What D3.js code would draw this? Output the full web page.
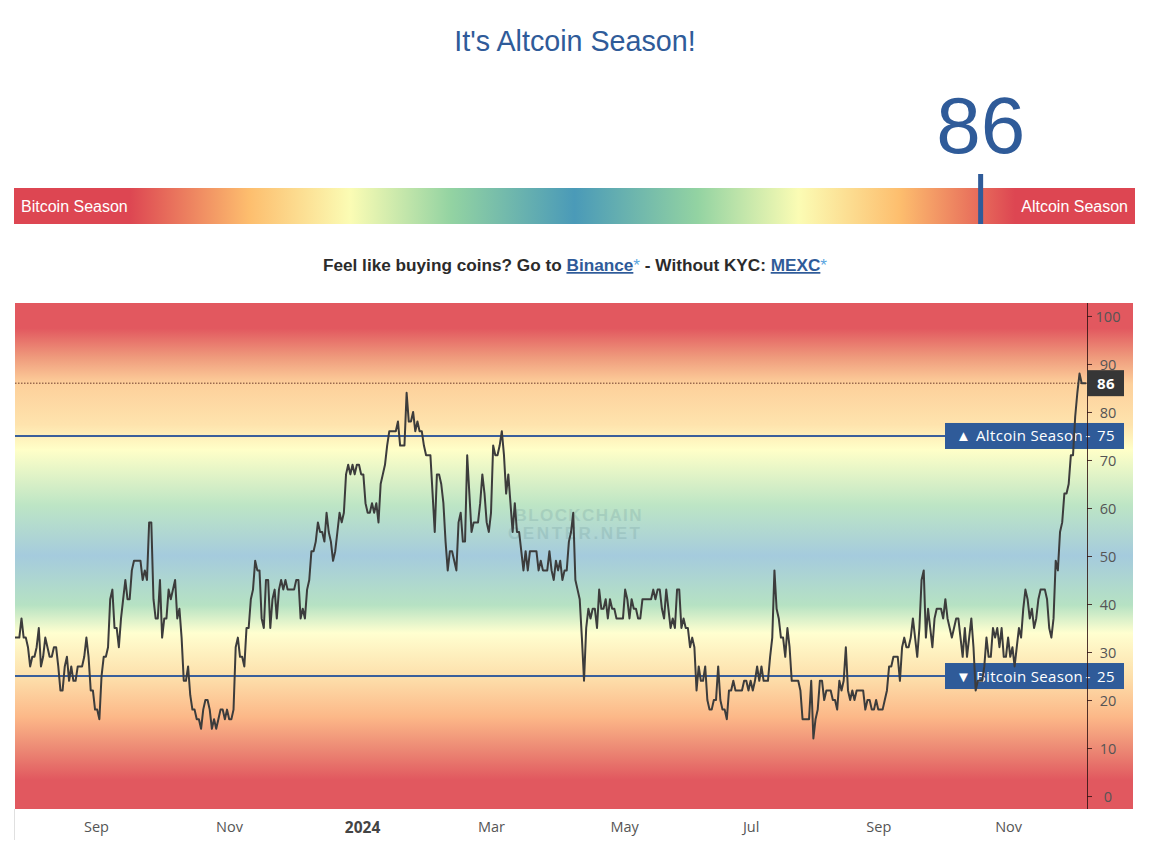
<!DOCTYPE html>
<html>
<head>
<meta charset="utf-8">
<script src="https://cdn.jsdelivr.net/npm/d3@7"></script>
<style>
  body { margin: 0; background: #fff; }
  svg { display: block; }
  .sans { font-family: "Liberation Sans", Arial, sans-serif; }
  .chartfont { font-family: "Open Sans", sans-serif; font-size: 15px; letter-spacing: 0.35px; }
  .axis path.domain { display: none; }
  .axis text { font-family: "Open Sans", sans-serif; font-size: 14.5px; fill: #555; }
</style>
</head>
<body>
<div id="chart"></div>
<script>
// index value per bar
const indexValues = [
  33,33,33,37,33,33,31,27,29,29,31,
  35,27,29,33,31,29,29,31,31,27,
  22,22,27,29,24,27,24,24,27,27,
  27,29,33,29,22,22,18,18,16,25,
  29,29,31,41,43,35,35,31,37,41,
  45,41,41,47,49,49,49,49,45,47,
  45,57,57,41,37,37,45,33,37,37,
  43,41,43,45,37,39,33,24,24,27,
  21,18,18,16,16,14,18,20,20,18,
  14,16,14,16,18,18,16,18,16,16,
  18,31,33,29,29,27,35,35,41,43,
  49,47,47,37,35,45,45,35,41,43,
  37,43,45,43,45,43,43,43,43,45,45,
  37,39,37,43,45,
  51,51,53,57,55,55,53,59,55,53,
  49,51,55,59,57,59,67,69,67,69,
  67,69,69,67,67,61,59,59,61,59,
  61,57,65,67,69,73,76,76,76,76,
  78,73,73,73,84,78,78,80,76,78,
  76,76,73,71,71,71,63,55,67,67,
  65,61,53,47,51,51,49,47,57,59,
  53,53,71,63,55,57,57,57,61,67,
  63,57,55,59,73,71,71,73,76,71,
  63,67,61,55,61,55,55,51,47,51,
  47,51,51,51,51,47,49,47,47,47,
  51,47,45,49,47,49,45,47,47,53,
  55,59,45,43,41,33,24,35,39,37,
  39,39,35,43,39,39,41,37,41,39,
  39,37,37,
  37,37,43,41,37,41,39,39,37,37,
  41,41,41,41,41,43,41,43,43,39,
  37,43,39,35,37,35,43,43,35,37,
  35,35,31,33,31,22,27,24,24,27,
  20,18,18,20,20,27,20,18,18,16,
  22,22,24,22,22,22,22,24,24,22,
  24,22,24,27,24,27,24,24,24,29,
  33,47,39,37,33,33,29,35,31,24,
  24,24,24,22,16,16,16,16,24,12,
  16,18,24,24,20,22,22,22,20,20,
  18,24,22,24,31,22,20,22,20,22,
  22,22,22,18,20,20,18,18,20,18,
  18,18,20,22,27,27,29,29,29,24,
  31,33,31,31,33,37,33,29,35,45,
  47,33,39,35,31,37,39,39,39,37,
  41,37,35,33,35,37,37,33,29,35,
  29,33,37,31,22,24,24,24,27,33,
  29,29,35,33,35,31,35,29,29,33,
  29,31,27,31,35,33,39,43,41,37,
  39,35,37,41,43,43,43,41,35,33,
  37,49,47,55,57,63,63,65,71,71,
  79,84,88,86,86,86
];

// tick labels and the bar each one sits on
const monthLabels = ["Sep", "Nov", "2024", "Mar", "May", "Jul", "Sep", "Nov"];
const monthBars = [37.4, 98.9, 160.4, 220, 281.5, 340, 399, 459];
const valueTicks = [0, 10, 20, 30, 40, 50, 60, 70, 80, 90, 100];

const currentValue = 86;
const thresholds = [75, 25];
const thresholdNames = ["Altcoin Season", "Bitcoin Season"];
const thresholdArrows = ["\u25B2", "\u25BC"];

const blue = "#2f5b99";

const width = 1150, height = 857;
const plot = { left: 15, axis: 1087, right: 1133, top: 303, bottom: 809 };

const svg = d3.select("#chart").append("svg")
  .attr("width", width)
  .attr("height", height);

const defs = svg.append("defs");

// gradients
const barStops = [
  [0, "#dd4652"], [0.103, "#dd4652"], [0.21, "#fdbe6e"], [0.30, "#fbfcb4"],
  [0.39, "#93d3a2"], [0.5, "#4a9ab8"], [0.61, "#93d3a2"], [0.70, "#fbfcb4"],
  [0.79, "#fdbe6e"], [0.893, "#dd4652"], [1, "#dd4652"]
];
const plotStops = [
  [0, "#e2585f"], [0.05, "#e2585f"], [0.107, "#ef9a7c"], [0.16, "#fdd09b"],
  [0.24, "#fee3ad"], [0.29, "#ffffc8"], [0.40, "#bde5c5"], [0.5, "#a5cbdd"],
  [0.597, "#b6e2c3"], [0.652, "#ffffd0"], [0.74, "#fddfab"], [0.818, "#fcb888"],
  [0.883, "#ec8874"], [0.943, "#e1585f"], [1, "#e1585f"]
];

function addGradient(id, stops, x2, y2) {
  const g = defs.append("linearGradient").attr("id", id)
    .attr("x1", 0).attr("y1", 0).attr("x2", x2).attr("y2", y2);
  stops.forEach(s => g.append("stop").attr("offset", s[0]).attr("stop-color", s[1]));
}
addGradient("barGrad", barStops, 1, 0);
addGradient("plotGrad", plotStops, 0, 1);

// heading
svg.append("text").attr("class", "sans")
  .attr("x", 575).attr("y", 51)
  .attr("text-anchor", "middle")
  .attr("font-size", 28.7)
  .attr("fill", blue)
  .text("It's Altcoin Season!");

// season bar
const bar = { x: 14, y: 188, w: 1121, h: 36 };
svg.append("rect")
  .attr("x", bar.x).attr("y", bar.y)
  .attr("width", bar.w).attr("height", bar.h)
  .attr("fill", "url(#barGrad)");

svg.append("text").attr("class", "sans")
  .attr("x", 21).attr("y", 212)
  .attr("font-size", 16).attr("fill", "#fff")
  .text("Bitcoin Season");
svg.append("text").attr("class", "sans")
  .attr("x", 1128).attr("y", 212)
  .attr("text-anchor", "end")
  .attr("font-size", 16).attr("fill", "#fff")
  .text("Altcoin Season");

// current value marker
const barX = d3.scaleLinear().domain([0, 100]).range([bar.x, bar.x + bar.w + 3]);
svg.append("rect")
  .attr("x", barX(currentValue) - 2.5).attr("y", 174)
  .attr("width", 5).attr("height", 50)
  .attr("fill", blue);
svg.append("text").attr("class", "sans")
  .attr("x", barX(currentValue)).attr("y", 153)
  .attr("text-anchor", "middle")
  .attr("font-size", 80)
  .attr("fill", blue)
  .text(currentValue);

// buy line
const buy = svg.append("text").attr("class", "sans")
  .attr("x", 575).attr("y", 271)
  .attr("text-anchor", "middle")
  .attr("font-size", 17.2).attr("font-weight", "bold")
  .attr("fill", "#2b2b2b");
buy.append("tspan").text("Feel like buying coins? Go to ");
buy.append("tspan").attr("fill", blue).attr("text-decoration", "underline").text("Binance");
buy.append("tspan").attr("fill", "#5aa5e0").attr("font-weight", "normal").text("*");
buy.append("tspan").text(" - Without KYC: ");
buy.append("tspan").attr("fill", blue).attr("text-decoration", "underline").text("MEXC");
buy.append("tspan").attr("fill", "#5aa5e0").attr("font-weight", "normal").text("*");

// scales
const x = d3.scaleLinear()
  .domain([0, indexValues.length - 1])
  .range([plot.left, plot.axis - 1]);
const y = d3.scaleLinear()
  .domain([-2.7, 102.7])
  .range([plot.bottom, plot.top]);

// chart background
svg.append("rect")
  .attr("x", plot.left).attr("y", plot.top)
  .attr("width", plot.right - plot.left).attr("height", plot.bottom - plot.top)
  .attr("fill", "url(#plotGrad)");

// watermark
const mark = svg.append("g").attr("class", "sans")
  .attr("text-anchor", "middle")
  .attr("font-size", 17)
  .attr("font-weight", "bold")
  .attr("fill", "#5f8a8f")
  .attr("opacity", 0.2);
mark.append("text").attr("x", 578).attr("y", 521).attr("textLength", 127).text("BLOCKCHAIN");
mark.append("text").attr("x", 574).attr("y", 539).attr("textLength", 132).text("CENTER.NET");

// left edge below the chart
svg.append("line")
  .attr("x1", plot.left - 0.5).attr("x2", plot.left - 0.5)
  .attr("y1", plot.bottom).attr("y2", 840)
  .attr("stroke", "#e0e0e0");

// threshold lines + labels
thresholds.forEach((v, i) => {
  svg.append("line")
    .attr("x1", plot.left).attr("x2", 945)
    .attr("y1", y(v)).attr("y2", y(v))
    .attr("stroke", "#3a5f9b").attr("stroke-width", 2);
  svg.append("rect")
    .attr("x", 945).attr("y", y(v) - 13)
    .attr("width", 179).attr("height", 26)
    .attr("fill", blue);
  const label = svg.append("g").attr("class", "chartfont").attr("fill", "#fff");
  label.append("text").attr("x", 956).attr("y", y(v) + 5.5)
    .attr("font-size", 15).text(thresholdArrows[i]);
  label.append("text").attr("x", 976).attr("y", y(v) + 5.5)
    .text(thresholdNames[i]);
  label.append("text").attr("x", 1088).attr("y", y(v) + 5.5)
    .attr("text-anchor", "middle").text("-");
  label.append("text").attr("x", 1106).attr("y", y(v) + 5.5)
    .attr("text-anchor", "middle").text(v);
});

// dotted current value line
svg.append("line")
  .attr("x1", plot.left).attr("x2", plot.axis)
  .attr("y1", y(currentValue)).attr("y2", y(currentValue))
  .attr("stroke", "#6b3a2a").attr("stroke-width", 1)
  .attr("stroke-dasharray", "1.5 1.5");

// index line
const line = d3.line()
  .x((d, i) => x(i))
  .y(d => y(d));
svg.append("path")
  .datum(indexValues)
  .attr("d", line)
  .attr("fill", "none")
  .attr("stroke", "#3c3c3c")
  .attr("stroke-width", 2)
  .attr("stroke-linejoin", "round");

// right axis
const yAxis = svg.append("g").attr("class", "axis")
  .attr("transform", `translate(${plot.axis},0)`)
  .call(d3.axisRight(y).tickValues(valueTicks).tickSize(5).tickPadding(6));
yAxis.selectAll("line").attr("stroke", "rgba(50,20,20,0.85)");
yAxis.selectAll("text").attr("x", 21).attr("text-anchor", "middle").attr("dy", "0.4em")
  .style("fill", "#555");
svg.append("line")
  .attr("x1", plot.axis + 0.5).attr("x2", plot.axis + 0.5)
  .attr("y1", plot.top).attr("y2", plot.bottom)
  .attr("stroke", "rgba(50,20,20,0.85)");

// current value tag
svg.append("rect")
  .attr("x", plot.axis).attr("y", y(currentValue) - 13)
  .attr("width", 37).attr("height", 26)
  .attr("fill", "#363636");
svg.append("text").attr("class", "chartfont")
  .attr("x", plot.axis + 19).attr("y", y(currentValue) + 5.5)
  .attr("text-anchor", "middle")
  .attr("font-weight", "bold")
  .attr("fill", "#fff")
  .text(currentValue);

// bottom axis
const xAxis = svg.append("g").attr("class", "axis")
  .attr("transform", `translate(0,${plot.bottom})`)
  .call(d3.axisBottom(x)
    .tickValues(monthBars)
    .tickSize(0)
    .tickPadding(13)
    .tickFormat((d, i) => monthLabels[i]));
xAxis.selectAll("text")
  .filter((d, i) => monthLabels[i] === "2024")
  .attr("font-weight", "bold")
  .style("fill", "#444")
  .style("font-size", "15.5px");
</script>
</body>
</html>
